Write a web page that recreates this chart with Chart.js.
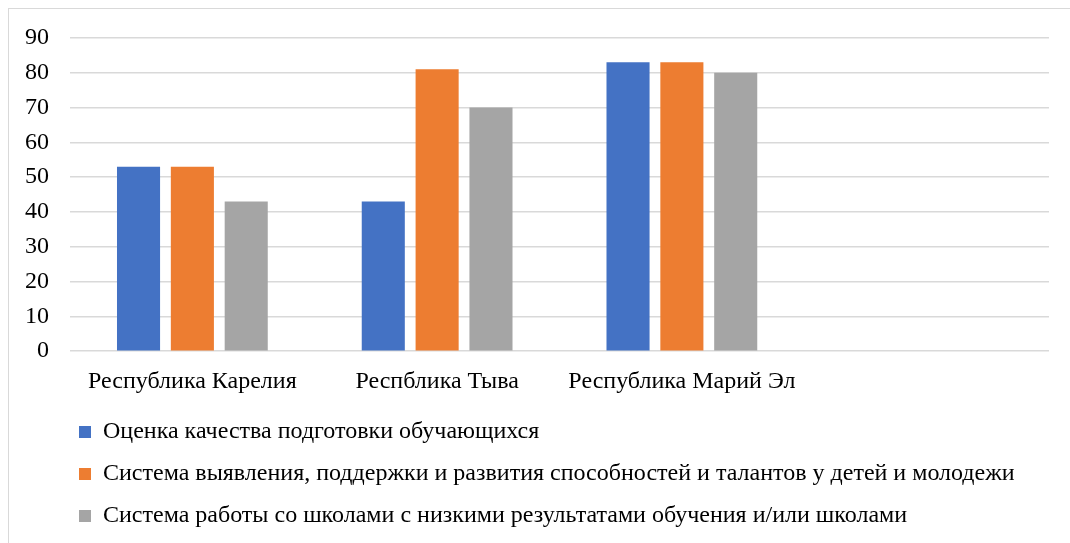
<!DOCTYPE html>
<html>
<head>
<meta charset="utf-8">
<script src="https://cdn.jsdelivr.net/npm/chart.js@4"></script>
<style>
  html, body { margin: 0; padding: 0; background: #fff; overflow: hidden; }
  #wrap { position: relative; width: 1070px; height: 543px; overflow: hidden; }
  #frame { position: absolute; left: 8px; top: 8px; width: 1100px; height: 600px; border: 1px solid #d9d9d9; box-sizing: border-box; pointer-events: none; }
</style>
</head>
<body>
<div id="wrap">
  <canvas id="regionChart" width="1070" height="548"></canvas>
  <div id="frame"></div>
</div>
<script>
const regions = ["Республика Карелия", "Респблика Тыва", "Республика Марий Эл", ""];
const seriesNames = [
    "Оценка качества подготовки обучающихся",
    "Система выявления, поддержки и развития способностей и талантов у детей и молодежи",
    "Система работы со школами с низкими результатами обучения и/или школами"
];
const qualityScores = [53, 43, 83, null];
const talentScores = [53, 81, 83, null];
const lowResultScores = [43, 70, 80, null];
const colors = ["#4472c4", "#ed7d31", "#a5a5a5"];

// move the legend a bit right and up, like the original layout
const legendShift = {
    id: 'legendShift',
    afterLayout(chart) {
        const lg = chart.legend;
        lg.left = 61;
        lg.top -= 10;
        lg.bottom -= 10;
    }
};

function createRegionChart() {
    const ctx = document.getElementById('regionChart').getContext('2d');
    const font = { family: "'Liberation Serif', 'Times New Roman', serif", size: 24 };
    const seriesData = [qualityScores, talentScores, lowResultScores];

    new Chart(ctx, {
        type: 'bar',
        data: {
            labels: regions,
            datasets: seriesNames.map((name, i) => ({
                label: name,
                data: seriesData[i],
                backgroundColor: colors[i],
                barPercentage: 0.8,
                categoryPercentage: 0.66
            }))
        },
        options: {
            responsive: false,
            animation: false,
            layout: { padding: { top: 38, left: 4, right: 21, bottom: 0 } },
            scales: {
                x: {
                    grid: { display: false, drawTicks: false },
                    border: { display: false },
                    ticks: { font: font, color: '#000', padding: 16, maxRotation: 0 }
                },
                y: {
                    min: 0,
                    max: 90,
                    grid: { color: '#d9d9d9', lineWidth: 1.5, drawTicks: false },
                    border: { display: false },
                    ticks: { stepSize: 10, font: font, color: '#000', padding: 21 }
                }
            },
            plugins: {
                tooltip: { enabled: false },
                legend: {
                    position: 'bottom',
                    align: 'start',
                    labels: {
                        font: font,
                        color: '#000',
                        boxWidth: 12,
                        boxHeight: 12,
                        padding: 18
                    }
                }
            }
        },
        plugins: [legendShift]
    });
}

document.addEventListener("DOMContentLoaded", function() {
    createRegionChart();
});
</script>
</body>
</html>
